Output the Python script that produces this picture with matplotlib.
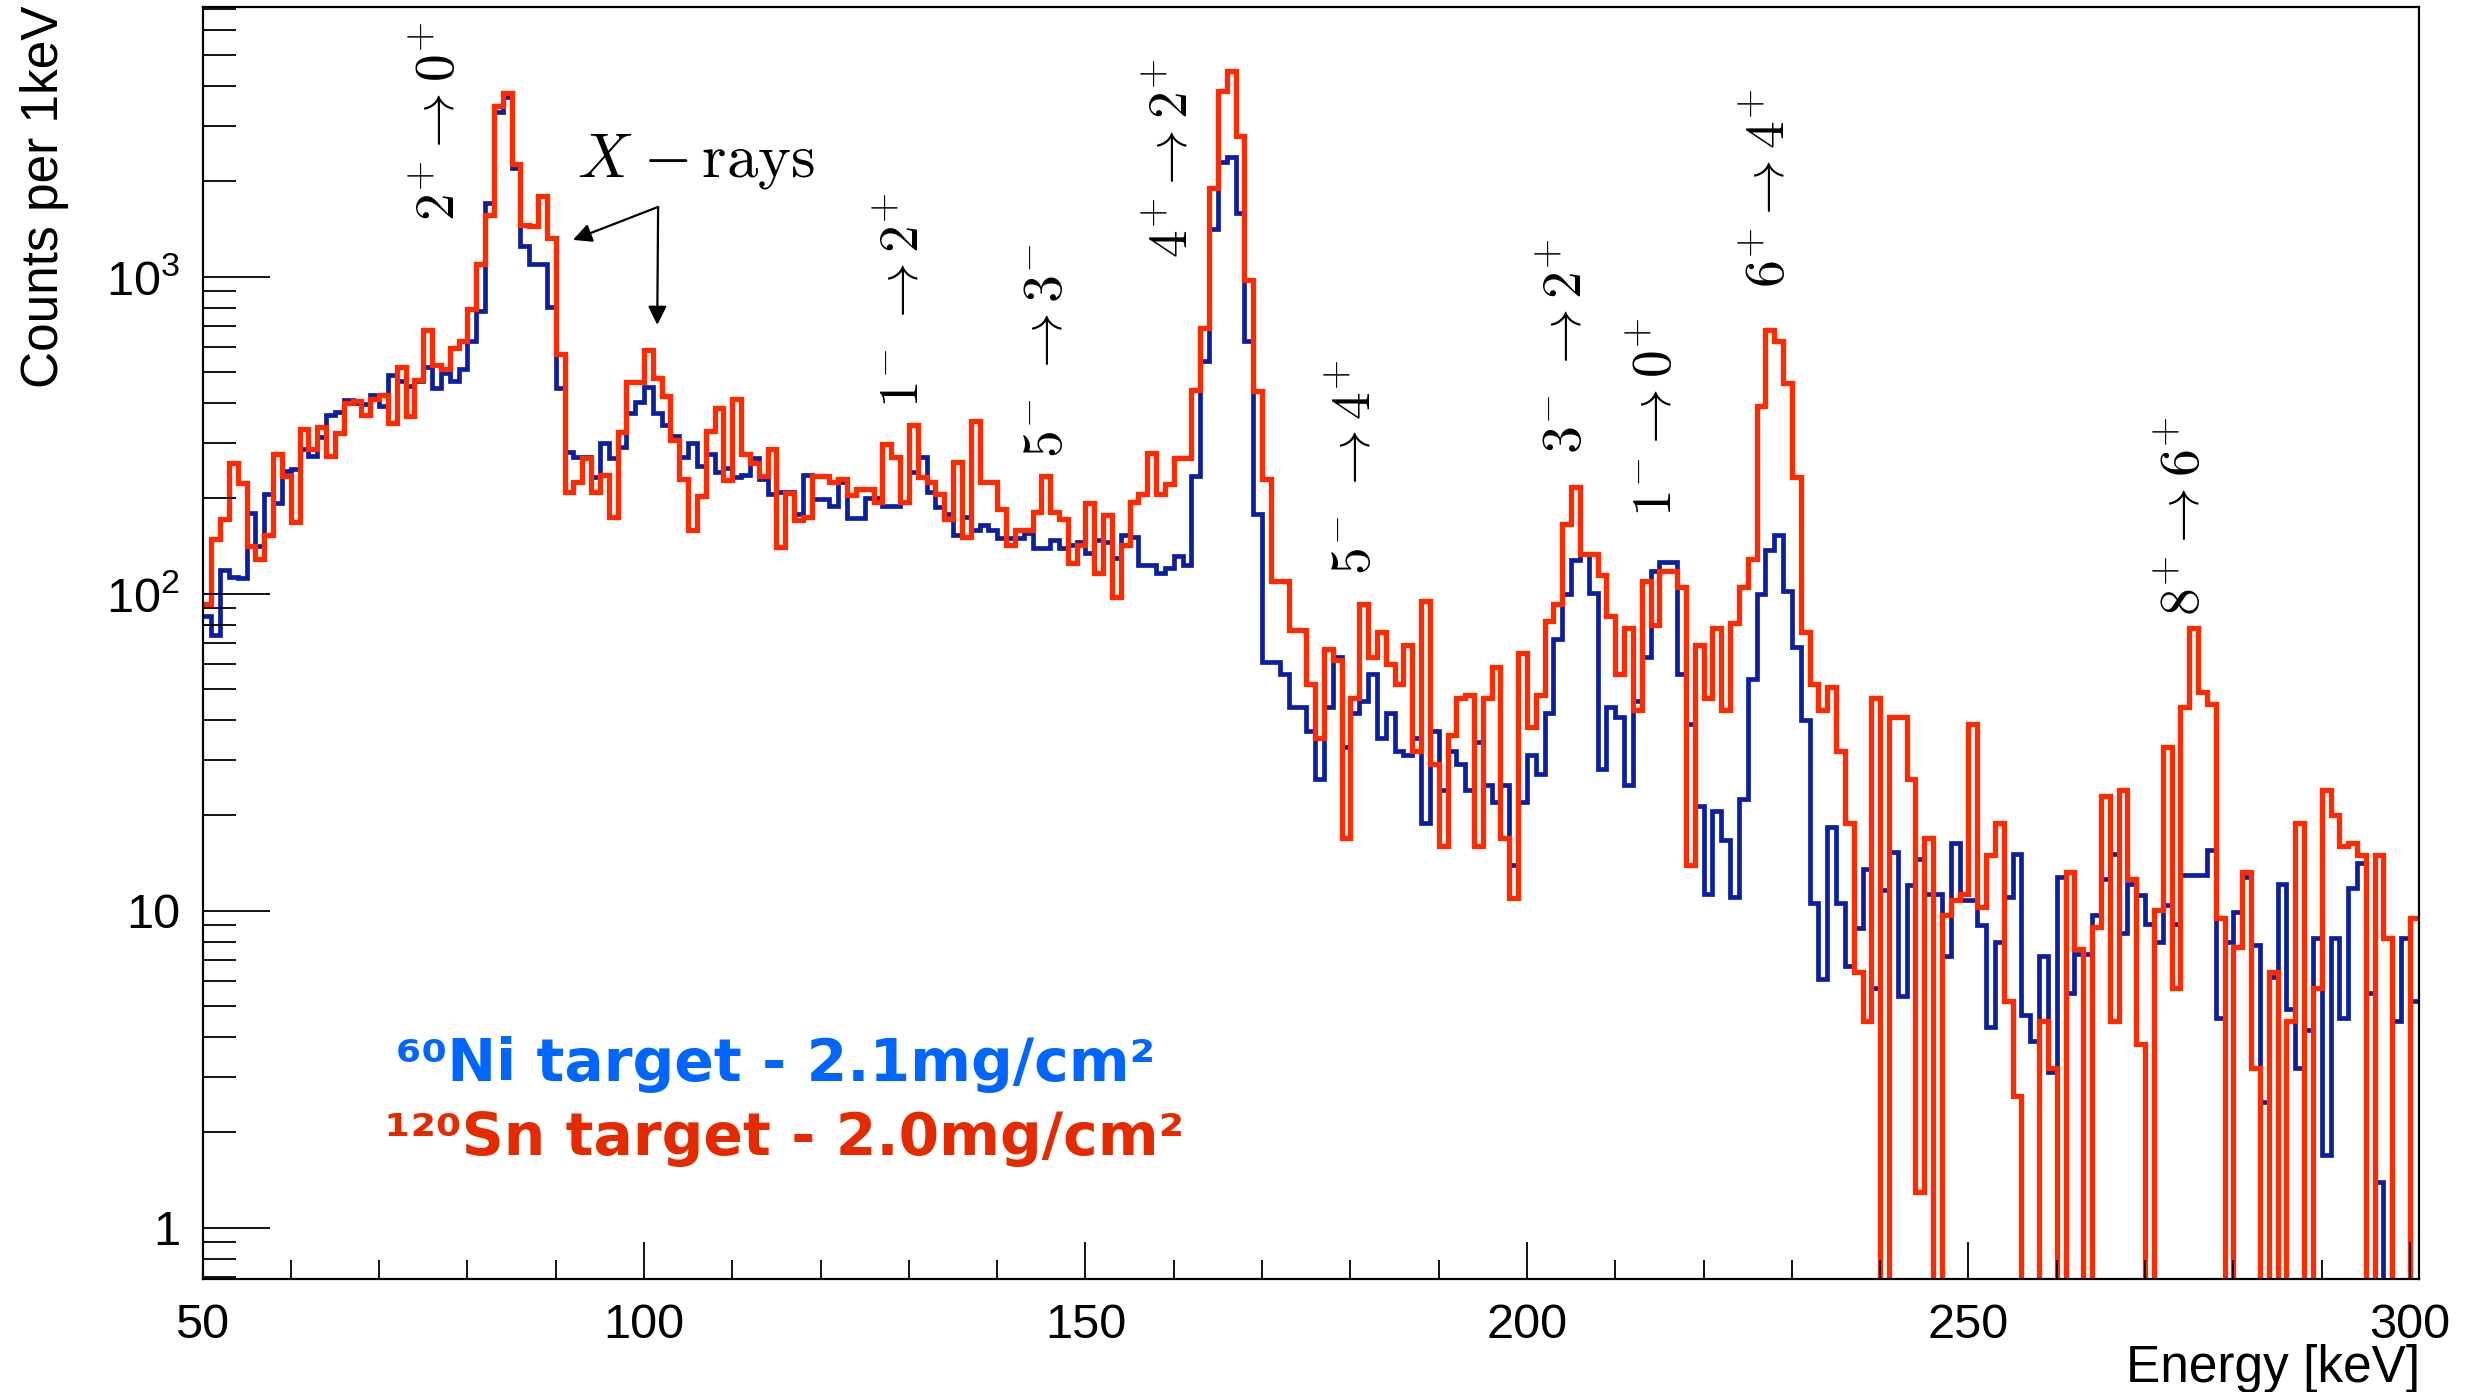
import numpy as np
import matplotlib
matplotlib.use("Agg")
import matplotlib.pyplot as plt
from matplotlib.ticker import FixedLocator, FuncFormatter, NullFormatter

# ---------------- data (counts per 1 keV bin, first bin starts at 50 keV) ----------------
energy_start_keV = 50
bin_width_keV = 1

sn120_counts = [
    93, 149, 172, 259, 223, 142, 129, 153, 277, 235,
    168, 332, 286, 337, 272, 321, 401, 407, 366, 412,
    423, 346, 521, 364, 472, 682, 528, 512, 597, 626,
    791, 1101, 1567, 3451, 3802, 2275, 1460, 1442, 1800, 1326,
    571, 209, 226, 268, 210, 237, 175, 325, 467, 467,
    590, 478, 421, 306, 230, 159, 203, 327, 385, 229,
    412, 277, 258, 235, 287, 141, 208, 171, 175, 236,
    236, 226, 230, 205, 214, 214, 195, 297, 270, 195,
    341, 234, 226, 207, 172, 260, 151, 350, 226, 226,
    185, 143, 159, 159, 181, 235, 181, 172, 125, 143,
    193, 116, 177, 98, 143, 195, 207, 278, 207, 222,
    268, 268, 441, 689, 1910, 3864, 4450, 2788, 980, 436,
    231, 110, 110, 77, 77, 52, 35, 67, 62, 17,
    47, 93, 63, 76, 60, 52, 69, 32, 95, 29,
    16, 36, 47, 48, 16, 47, 59, 17, 11, 65,
    38, 48, 82, 93, 166, 218, 134, 134, 115, 85,
    56, 78, 43, 110, 80, 118, 118, 105, 14, 69,
    47, 78, 43, 81, 105, 129, 391, 678, 627, 461,
    234, 76, 52, 43, 51, 32, 19, 6.4, 4.5, 47,
    0, 41, 41, 26, 1.3, 17, 0, 9.7, 10.8, 11.3,
    39, 10.3, 15, 19, 5.2, 2.6, 0, 0, 4.5, 3.2,
    0, 13.3, 7.6, 0, 8.9, 23, 4.5, 24, 12.6, 3.8,
    0, 10.1, 33, 5.7, 44, 78, 49, 45, 9.5, 0,
    7.7, 13.3, 3.2, 0, 6.4, 0, 4.5, 19, 0, 5.7,
    24, 20, 16, 16.4, 15, 0, 15, 8.2, 0, 0,
    9.5,
]

ni60_counts = [
    85, 74, 119, 113, 112, 180, 142, 207, 194, 245,
    248, 286, 272, 313, 366, 374, 409, 401, 396, 423,
    391, 489, 470, 452, 470, 521, 446, 499, 470, 512,
    626, 780, 1706, 3300, 3700, 2200, 1248, 1095, 1095, 801,
    446, 280, 271, 271, 234, 300, 269, 291, 371, 404,
    448, 371, 341, 315, 271, 300, 254, 277, 243, 249,
    234, 237, 268, 231, 207, 210, 210, 179, 237, 199,
    199, 189, 226, 173, 173, 200, 200, 190, 190, 195,
    243, 271, 210, 188, 178, 153, 175, 159, 165, 159,
    150, 150, 150, 156, 140, 140, 148, 140, 143, 146,
    135, 148, 146, 130, 153, 151, 123, 123, 116, 121,
    132, 123, 235, 542, 1420, 2300, 2390, 1585, 628, 178,
    61, 61, 56, 44, 44, 37, 26, 44, 63, 33,
    42, 46, 56, 35, 42, 32, 31, 35, 19, 37,
    24, 32, 29, 24, 34, 25, 22, 25, 14, 22,
    31, 27, 42, 72, 100, 128, 134, 101, 28, 44,
    41, 25, 46, 63, 118, 126, 126, 56, 39, 21.5,
    11.3, 20.6, 16.7, 11.1, 22.6, 54, 100, 138, 153, 102,
    68, 40, 10.6, 6.1, 18.4, 10.6, 6.7, 8.8, 13.6, 5.7,
    11.6, 15.3, 5.4, 12.1, 14.6, 11.3, 11.3, 7.2, 16.4, 10.8,
    10.8, 9.0, 4.3, 8.0, 11.1, 15.1, 4.7, 3.9, 7.2, 3.1,
    12.8, 5.5, 7.3, 7.3, 9.7, 12.6, 15.1, 8.5, 12.2, 11.2,
    9.1, 8.0, 10.4, 9.1, 13.0, 13.0, 13.0, 15.6, 4.6, 8.0,
    9.9, 12.8, 7.8, 2.5, 6.2, 12.2, 4.9, 3.2, 4.2, 8.2,
    1.7, 8.2, 4.6, 11.8, 14.2, 5.5, 1.4, 0, 4.5, 8.2,
    5.2,
]

x_tick_values = [50, 100, 150, 200, 250, 300]
y_tick_values = [1, 10, 100, 1000]
y_tick_labels = ["1", "10", r"$10^{2}$", r"$10^{3}$"]

transition_labels = [
    r"$2^{+}\rightarrow 0^{+}$",
    r"$1^{-}\ \rightarrow 2^{+}$",
    r"$5^{-}\ \rightarrow 3^{-}$",
    r"$4^{+}\rightarrow 2^{+}$",
    r"$5^{-}\ \rightarrow 4^{+}$",
    r"$3^{-}\ \rightarrow 2^{+}$",
    r"$1^{-}\rightarrow 0^{+}$",
    r"$6^{+}\rightarrow 4^{+}$",
    r"$8^{+}\rightarrow 6^{+}$",
]
transition_energy_keV = [76.9, 129.4, 145.8, 159.9, 180.7, 204.6, 214.7, 227.5, 274.6]
transition_label_base = [1502, 386, 269, 1148, 115, 276, 175, 923, 85.3]

legend_lines = ["\u2076\u2070Ni target - 2.1mg/cm\u00b2", "\u00b9\u00b2\u2070Sn target - 2.0mg/cm\u00b2"]

# ---------------- style ----------------
plt.rcParams["font.family"] = ["Liberation Sans", "DejaVu Sans"]
plt.rcParams["mathtext.fontset"] = "custom"
plt.rcParams["mathtext.rm"] = "Liberation Sans"
plt.rcParams["mathtext.it"] = "Liberation Sans:italic"
plt.rcParams["mathtext.bf"] = "Liberation Sans:bold"

W, H = 2481, 1392
fig = plt.figure(figsize=(W / 100, H / 100), dpi=100)
left, right, top, bottom = 202.5 / W, 2418.8 / W, 1 - 7 / H, 1 - 1279 / H
ax = fig.add_axes([left, bottom, right - left, top - bottom])

n = len(sn120_counts)
edges = energy_start_keV + bin_width_keV * np.arange(n + 1)

blue_col = "#0A1FA6"
red_col = "#FF2A00"
p1 = ax.stairs(np.array(ni60_counts, float), edges, color=blue_col, lw=3.4, baseline=None)
p2 = ax.stairs(np.array(sn120_counts, float), edges, color=red_col, lw=3.8, baseline=None)
for p in (p1, p2):
    p.set_joinstyle("miter")

ax.set_yscale("log", nonpositive="clip")
ax.set_xlim(edges[0], edges[-1])
ax.set_ylim(0.69, 7100)

# ticks
ax.xaxis.set_major_locator(FixedLocator(x_tick_values))
ax.xaxis.set_minor_locator(FixedLocator([v for v in range(60, 300, 10) if v % 50 != 0]))
ax.yaxis.set_major_locator(FixedLocator(y_tick_values))
minor_y = [m * 10.0 ** d for d in range(-1, 4) for m in range(2, 10)]
minor_y = [v for v in minor_y if 0.69 <= v <= 7100 and v not in y_tick_values]
ax.yaxis.set_minor_locator(FixedLocator(minor_y))
lab = dict(zip(y_tick_values, y_tick_labels))
ax.yaxis.set_major_formatter(FuncFormatter(lambda v, pos: lab.get(int(round(v)), "")))
ax.yaxis.set_minor_formatter(NullFormatter())

ax.tick_params(which="both", direction="in", top=False, right=False, width=1.3,
               labelsize=35, colors="black")
ax.tick_params(axis="y", which="major", length=48, pad=16)
ax.tick_params(axis="y", which="minor", length=24)
ax.tick_params(axis="x", which="major", length=27, pad=17)
ax.tick_params(axis="x", which="minor", length=13.5)
for s in ax.spines.values():
    s.set_linewidth(1.6)

# axis titles
fig.text(2420 / W, 1 - 1382 / H, "Energy [keV]", ha="right", va="baseline", fontsize=37)
fig.text(20 / W, 1 - 6 / H, "Counts per 1keV", rotation=90, ha="left", va="top", fontsize=37)

# transition labels
for txt, e, yb in zip(transition_labels, transition_energy_keV, transition_label_base):
    ax.text(e, yb, txt, rotation=90, ha="center", va="bottom", fontsize=40,
            math_fontfamily="cm", color="black")

# X-rays label and arrows
ax.text(92.4, 2066, r"$X\;{-}\,\mathrm{rays}$", ha="left", va="baseline", fontsize=45,
        math_fontfamily="cm")
arrow_kw = dict(arrowstyle="-|>", color="black", lw=1.6, mutation_scale=28,
                shrinkA=0, shrinkB=0)
ax.annotate("", xy=(91.96, 1308), xytext=(101.6, 1662), arrowprops=arrow_kw)
ax.annotate("", xy=(101.5, 706), xytext=(101.6, 1662), arrowprops=arrow_kw)

# legend-like coloured labels
fam = ["DejaVu Sans"]
fig.text(396 / W, 1 - 1081 / H, legend_lines[0], color="#0066FF", fontsize=42,
         fontweight="bold", family=fam, ha="left", va="baseline")
fig.text(385 / W, 1 - 1155 / H, legend_lines[1], color="#E52A00", fontsize=42,
         fontweight="bold", family=fam, ha="left", va="baseline")

fig.savefig("out.png", dpi=100)
